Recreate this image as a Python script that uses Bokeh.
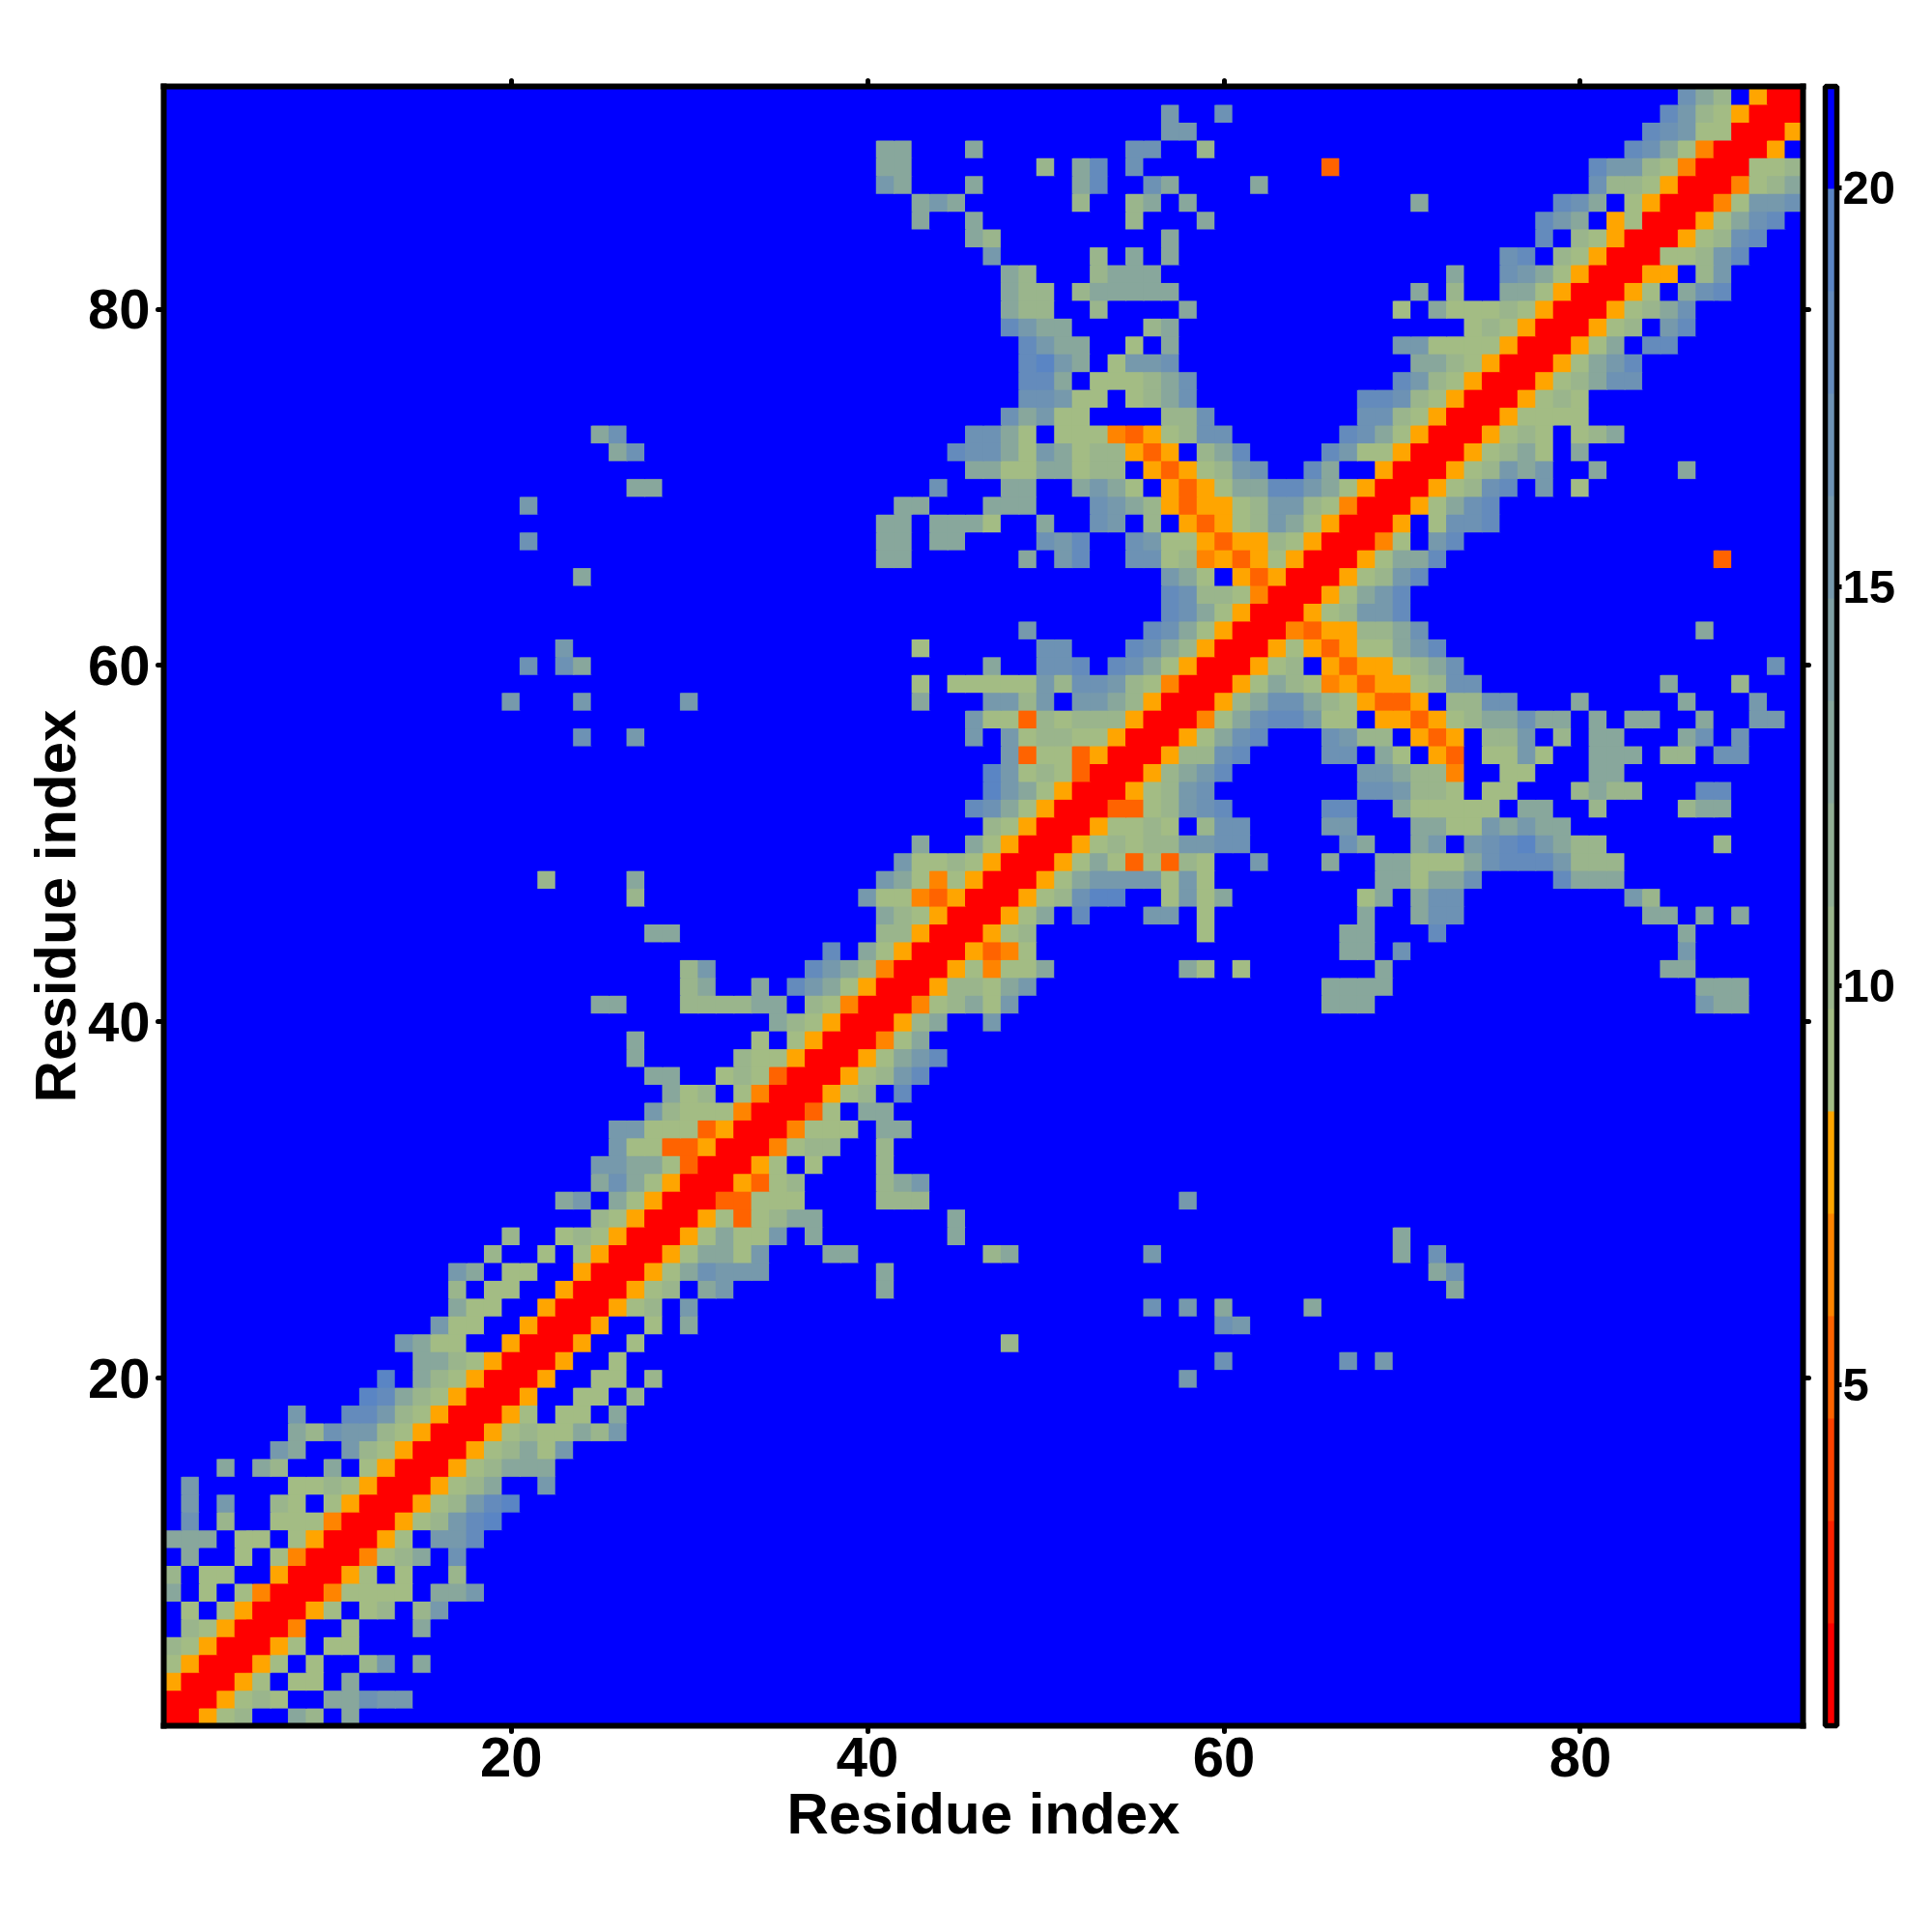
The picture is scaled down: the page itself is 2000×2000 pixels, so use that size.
from bokeh.plotting import figure
from bokeh.models import (ColumnDataSource, LinearColorMapper, ColorBar, FixedTicker, LinearAxis, Range1d)
from bokeh.transform import transform
from bokeh.embed import file_html
from bokeh.resources import INLINE

residues = list(range(1, 93))
axis_ticks = [20, 40, 60, 80]
colorbar_ticks = [5, 10, 15, 20]
axis_title = "Residue index"
palette = ["#ff0000", "#ff2100", "#ff4200", "#ff6300", "#ff8400", "#ffa500",
           "#a3bc84", "#9ab58c", "#91ae94", "#88a79c", "#7fa0a4", "#7699ac",
           "#6d92b4", "#648bbc", "#5a85c4", "#0000ff"]
scale_low = 0.72
scale_high = 21.27
# Distance for each colour seen in a cell
level_distance = {"R": 1.4, "o": 5.2, "p": 6.5, "O": 7.8, "a": 9.1, "b": 10.4, "c": 12.9,
                  "d": 15.5, "e": 16.8, "f": 18.1, "g": 19.3, "h": 19.3, ".": 20.6}
far_distance = 20.6

# One side of the symmetric map: row -> [(first column, cell levels), ...]
map_rows = {
    1: [(1, "RROab..cb.c")],
    2: [(2, "RROaba..ccedd")],
    3: [(3, "RROa.aa.c")],
    4: [(4, "RROa.a..bd.c")],
    5: [(5, "RROa.aa")],
    6: [(6, "RRp..a...c")],
    7: [(7, "RROa.ab.bd")],
    8: [(8, "RRpaaaa.ccd")],
    9: [(9, "RROa.a..b")],
    10: [(10, "RRpabc.e")],
    11: [(11, "RROa.ddf")],
    12: [(12, "RROabdfg")],
    13: [(13, "RROabdfh")],
    14: [(14, "RROabc..d")],
    15: [(15, "RROabccc")],
    16: [(16, "RROabcad")],
    17: [(17, "RROabaacbd")],
    18: [(18, "RROa.aa.c")],
    19: [(19, "RRO..aa.b")],
    20: [(20, "RRO..aa.b"), (58, "d")],
    21: [(21, "RRO..a"), (60, "e"), (67, "e"), (69, "d")],
    22: [(22, "RRO..a"), (48, "b")],
    23: [(23, "RRO..a.c"), (60, "ed")],
    24: [(24, "RROab.d"), (56, "e"), (58, "d"), (60, "c"), (65, "c")],
    25: [(25, "RROab.cd"), (41, "c"), (73, "c")],
    26: [(26, "RROaceddd"), (41, "c"), (72, "ce")],
    27: [(27, "RROaccad"), (38, "cc"), (47, "bc"), (56, "d"), (70, "c"), (72, "e")],
    28: [(28, "RROacaad.c"), (45, "c"), (70, "c")],
    29: [(29, "RROaoabcc"), (45, "c")],
    30: [(30, "RRooaaa"), (41, "bbb"), (58, "d")],
    31: [(31, "RROoab"), (41, "bcd")],
    32: [(32, "RROa.a"), (41, "b")],
    33: [(33, "RRpabb"), (41, "b")],
    34: [(34, "RRpaaa.cc")],
    35: [(35, "RRoa.cc")],
    36: [(36, "RROab.f")],
    37: [(37, "RROabdf")],
    38: [(38, "RROacdf")],
    39: [(39, "RRpac")],
    40: [(40, "RRObc..d")],
    41: [(41, "RRpabcad"), (66, "ccc"), (87, "dcc")],
    42: [(42, "RRObbacd"), (66, "cccc"), (87, "ccc")],
    43: [(43, "RROapaac"), (58, "ca.a"), (69, "c"), (85, "cc")],
    44: [(44, "RROopa"), (67, "cc"), (70, "e"), (86, "d")],
    45: [(45, "RROab"), (59, "a"), (67, "cc"), (72, "f"), (86, "c")],
    46: [(46, "RROac.f"), (56, "dd.a"), (68, "c"), (71, "cee"), (84, "cc"), (87, "c"), (89, "c")],
    47: [(47, "RROabegg..adac"), (68, "ac"), (71, "cee"), (83, "db")],
    48: [(48, "RROacddddada"), (69, "ccacce"), (79, "fccc")],
    49: [(49, "RROacaoaoba..d"), (66, "c"), (69, "ccaaacefffdbbb")],
    50: [(50, "RROababbddee"), (67, "ec"), (71, "cd.defgdcbb"), (88, "b")],
    51: [(51, "RROaaba.bee"), (66, "dd"), (71, "ccaadcdcc")],
    52: [(52, "RRooabdef"), (66, "ff"), (70, "caaaaa.cc"), (81, "b"), (86, "bcc")],
    53: [(53, "RROabde"), (68, "eedbba.aa"), (80, "bcbb"), (87, "ff")],
    54: [(54, "RRObcdf"), (68, "ddcbbp..aa"), (81, "cc")],
    55: [(55, "RRObbef"), (66, "ee.ca.Oo.aada..ccc.bb.ee")],
    56: [(56, "RROacef"), (66, "edbb.OoO.bbd.b.cc...ce.e")],
    57: [(57, "RRpaceffdaa.OOoOabccecc.c.cc..c..dd")],
    58: [(58, "RRObceecbaOooO.bbee...c.....c...d")],
    59: [(59, "RROacbapOoOOabee"), (85, "c"), (89, "b")],
    60: [(60, "RROab.OoOOabce"), (91, "e")],
    61: [(61, "RROaOoOaacdf")],
    62: [(62, "RRpoOObbce"), (87, "c")],
    63: [(63, "RROabddf")],
    64: [(64, "RROacdf")],
    65: [(65, "RROabdf")],
    66: [(66, "RROaccf"), (88, "o")],
    67: [(67, "RRpa.df")],
    68: [(68, "RRO.aeef")],
    69: [(69, "RROacef")],
    70: [(70, "RROabef.d.a")],
    71: [(71, "RROabdcd..c"), (86, "c")],
    72: [(72, "RROabca.c")],
    73: [(73, "RROaba.abc")],
    74: [(74, "RROaaaa")],
    75: [(75, "RROaba")],
    76: [(76, "RROabcee")],
    77: [(77, "RROacdf")],
    78: [(78, "RROac.ff")],
    79: [(79, "RROab.df")],
    80: [(80, "RROabce")],
    81: [(81, "RROa.cef")],
    82: [(82, "RROO.bd")],
    83: [(83, "RRaabdf")],
    84: [(84, "RROabef")],
    85: [(85, "RROacef")],
    86: [(86, "RRpadde")],
    87: [(87, "RRpabc")],
    88: [(88, "RRaab")],
    89: [(89, "RRO.")],
    90: [(90, "RRO")],
    91: [(91, "RR")],
    92: [(92, "R")],
}

known = {}
for row, segments in map_rows.items():
    for start, codes in segments:
        for k, code in enumerate(codes):
            known[(start + k, row)] = level_distance[code]
            known[(row, start + k)] = level_distance[code]

xs, ys, ds = [], [], []
for r in residues:
    for c in residues:
        xs.append(c)
        ys.append(r)
        ds.append(known.get((c, r), far_distance))
source = ColumnDataSource(dict(x=xs, y=ys, d=ds))
mapper = LinearColorMapper(palette=palette, low=scale_low, high=scale_high)

p = figure(frame_width=1697, frame_height=1697, min_border_left=169, min_border_top=89,
           min_border_bottom=120, min_border_right=125,
           x_range=Range1d(0.5, 92.5), y_range=Range1d(0.5, 92.5),
           output_backend="svg", toolbar_location=None, x_axis_location="below",
           background_fill_color="#0000ff", border_fill_color="white")
p.grid.visible = False
p.rect("x", "y", width=1.06, height=1.06, source=source, fill_color=transform("d", mapper),
       line_color=None)

font = "Liberation Sans"
frame_line = 6
for ax, title in ((p.xaxis[0], axis_title), (p.yaxis[0], axis_title)):
    ax.ticker = FixedTicker(ticks=axis_ticks)
    ax.minor_tick_line_color = None
    ax.major_tick_in = 0
    ax.major_tick_out = 6
    ax.major_tick_line_width = 5
    ax.major_tick_line_cap = "round"
    ax.axis_line_width = frame_line
    ax.axis_line_cap = "square"
    ax.major_label_text_font = font
    ax.major_label_text_font_style = "bold"
    ax.major_label_text_font_size = "58px"
    ax.major_label_text_color = "black"
    ax.axis_label = title
    ax.axis_label_text_font = font
    ax.axis_label_text_font_style = "bold"
    ax.axis_label_text_font_size = "60px"
    ax.axis_label_text_color = "black"
p.xaxis[0].major_label_standoff = 6
p.xaxis[0].axis_label_standoff = 2
p.yaxis[0].major_label_standoff = 8
p.yaxis[0].major_label_orientation = "horizontal"
p.yaxis[0].axis_label_standoff = -3

for side in ("above", "right"):
    ax = LinearAxis(ticker=FixedTicker(ticks=axis_ticks), major_label_overrides={t: "" for t in axis_ticks},
                    major_label_text_font_size="0px", major_label_standoff=0,
                    minor_tick_line_color=None, major_tick_in=0, major_tick_out=6,
                    major_tick_line_width=5, major_tick_line_cap="round",
                    axis_line_width=frame_line, axis_line_cap="square")
    p.add_layout(ax, side)

cb = ColorBar(color_mapper=mapper, ticker=FixedTicker(ticks=colorbar_ticks), width=12, height=1697,
              location=(17, 0), margin=0, padding=0, bar_line_color="black", bar_line_width=5.5,
              major_tick_in=0, major_tick_out=5, major_tick_line_color="black", major_tick_line_width=5,
              minor_tick_line_color=None, label_standoff=1,
              major_label_text_font=font, major_label_text_font_style="bold",
              major_label_text_font_size="49px", major_label_text_color="black")
p.add_layout(cb, "right")

open("out.html", "w").write(file_html(p, INLINE))
